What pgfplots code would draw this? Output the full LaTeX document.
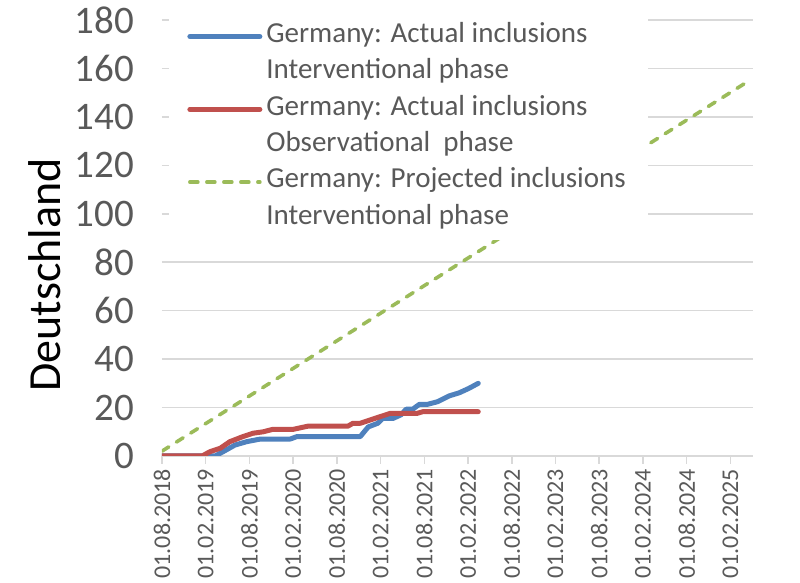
\documentclass[border=0pt]{standalone}
\usepackage{fontspec}
\setmainfont{Carlito}
\usepackage{pgfplots}
\pgfplotsset{compat=1.18}
\definecolor{cblue}{HTML}{4F81BD}
\definecolor{cred}{HTML}{C0504D}
\definecolor{cgreen}{HTML}{9BBB59}
\definecolor{gridgray}{HTML}{D9D9D9}
\definecolor{textgray}{HTML}{595959}
\begin{document}
\begin{tikzpicture}
\begin{axis}[
  scale only axis, width=295.5pt, height=218pt,
  xmin=0, xmax=81.1, ymin=0, ymax=180,
  xtick={0,6,...,78},
  xticklabels={01.08.2018,01.02.2019,01.08.2019,01.02.2020,01.08.2020,01.02.2021,01.08.2021,01.02.2022,01.08.2022,01.02.2023,01.08.2023,01.02.2024,01.08.2024,01.02.2025},
  ytick={0,20,...,180},
  axis x line*=bottom, axis y line*=left,
  y axis line style={draw=none},
  x axis line style={draw=gridgray, line width=0.75pt, -},
  ymajorgrids, grid style={draw=gridgray, line width=0.75pt},
  xtick align=outside, major tick length=4pt,
  xtick style={draw=gridgray, line width=0.75pt},
  ytick style={draw=none},
  tick label style={text=textgray},
  /pgf/number format/assume math mode=true,
  yticklabel style={font=\fontsize{19.5}{19.5}\selectfont, xshift=-10.5pt},
  xticklabel style={font=\fontsize{12}{12}\selectfont, rotate=90, anchor=east, xshift=1pt},
  ylabel={Deutschland},
  ylabel style={font=\fontsize{23}{23}\selectfont, at={(axis description cs:-0.198,0.415)}, anchor=center},
  legend style={at={(axis description cs:0.0118,1.0)}, anchor=north west, fill=white, draw=none,
    yshift=1.5pt, font=\fontsize{14.5}{16}\selectfont, text=textgray, row sep=0pt,
    inner xsep=9pt, inner ysep=1pt,
    nodes={text height=11.5pt, text depth=6.7pt, inner xsep=2pt, inner ysep=0pt}},
  legend cell align=left,
  legend image code/.code={\draw[#1] (0pt,0.5pt) -- (35pt,0.5pt);},
]
\addplot[cblue, line width=2.5pt, line join=round, line cap=round] coordinates {
(0,0) (7.3,0) (8.4,1.8) (10,4.5) (11.6,5.9) (13.5,7) (17.6,7) (18.5,8) (27.2,8)
(28.3,12) (29.6,13.5) (30.3,15.5) (31.7,15.5) (32.8,17) (33.5,19.3) (34.4,19.3)
(35.3,21.3) (36.4,21.3) (37.8,22.4) (39.4,24.8) (40.8,26.1) (42.1,27.9) (43.4,30)};
\addlegendentry{Germany: Actual inclusions}
\addlegendimage{empty legend}
\addlegendentry{Interventional phase}
\addplot[cred, line width=2.5pt, line join=round, line cap=round] coordinates {
(0,0) (5.5,0) (6.6,1.8) (8,3.2) (9.3,5.9) (11.1,8) (12.5,9.4) (13.9,10) (15.2,11)
(18,11) (20,12.3) (25.5,12.3) (26.2,13.5) (27.2,13.5) (28.6,14.9) (29.9,16.2)
(31.3,17.6) (35,17.6) (35.8,18.3) (43.4,18.3)};
\addlegendentry{Germany: Actual inclusions}
\addlegendimage{empty legend}
\addlegendentry{Observational\ \ phase}
\addplot[cgreen, line width=1.8pt, line cap=round, dash pattern=on 4pt off 4.5pt] coordinates {
(0,2) (80.6,155)};
\addlegendentry{Germany: Projected inclusions}
\addlegendimage{empty legend}
\addlegendentry{Interventional phase}
\coordinate (SW) at (rel axis cs:0,0);
\coordinate (NE) at (rel axis cs:1,1);
\end{axis}
\pgfresetboundingbox
\path[use as bounding box] ([shift={(-81pt,-63.5pt)}]SW) rectangle ([shift={(23.5pt,10pt)}]NE);
\end{tikzpicture}
\end{document}
